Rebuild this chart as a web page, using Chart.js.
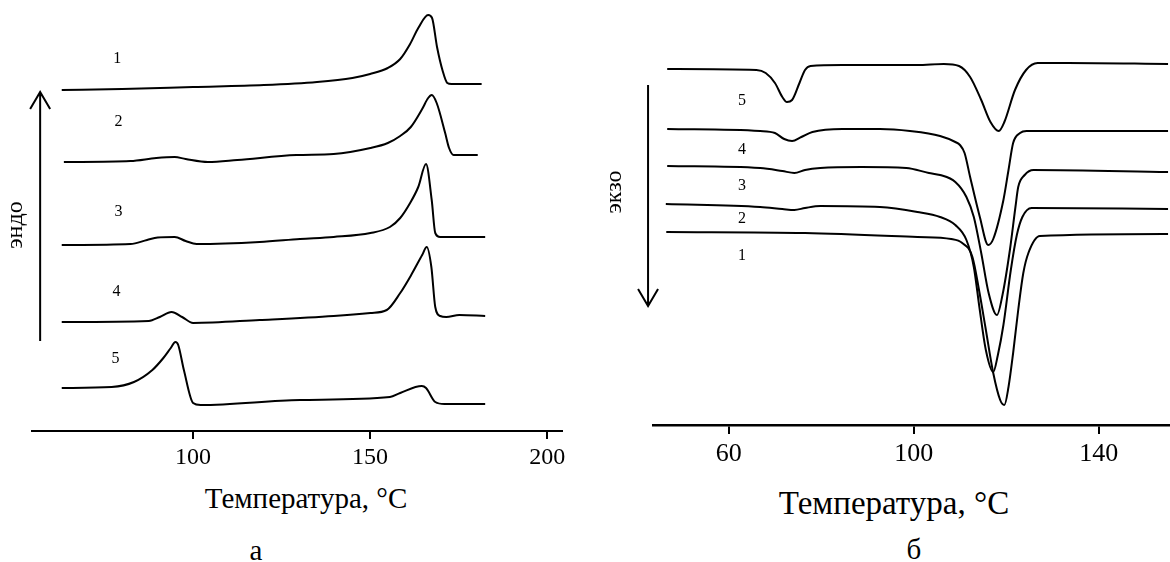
<!DOCTYPE html>
<html>
<head>
<meta charset="utf-8">
<script src="https://cdn.jsdelivr.net/npm/chart.js@4.4.0/dist/chart.umd.min.js"></script>
<style>
  body { margin: 0; background: #fff; width: 1170px; height: 562px; position: relative; overflow: hidden; font-family: 'Liberation Serif', serif; }
  canvas { position: absolute; top: 0; }
  #heatCanvas { left: 0; }
  #coolCanvas { left: 590px; }
  .cap { position: absolute; transform: translate(-50%, -50%); white-space: nowrap; color: #000; line-height: 1; }
</style>
</head>
<body>
<canvas id="heatCanvas" width="580" height="480"></canvas>
<canvas id="coolCanvas" width="580" height="480"></canvas>
<div class="cap" style="left:306px; top:498px; font-size:29px;">Температура, °C</div>
<div class="cap" style="left:256px; top:550px; font-size:29px;">а</div>
<div class="cap" style="left:894px; top:503px; font-size:33px;">Температура, °C</div>
<div class="cap" style="left:914px; top:549px; font-size:29px;">б</div>
<script>
// а: heating runs, temperature (°C) and heat flow (arb. units, curves shifted apart)
const heatT1 = [62.9, 80, 100, 120, 135, 145, 150, 155, 158.5, 161.3, 163.6, 166.4, 167.5, 168.9, 170.5, 171.8, 173, 181.5];
const heatQ1 = [34.1, 34.2, 34.4, 34.6, 34.9, 35.3, 35.7, 36.3, 37.2, 38.7, 40.3, 41.6, 41.3, 38.4, 36.0, 34.8, 34.7, 34.7];

const heatT2 = [63.5, 82.3, 89.6, 94.8, 97.9, 104.2, 112.5, 129.2, 139.7, 150.1, 155, 158.5, 161.5, 164.7, 166.4, 167.4, 168.8, 171.2, 172.3, 173.6, 180.4];
const heatQ2 = [26.9, 27.0, 27.3, 27.4, 27.2, 26.9, 27.1, 27.6, 27.7, 28.3, 28.8, 29.5, 30.4, 32.2, 33.3, 33.6, 32.8, 29.8, 28.3, 27.6, 27.6];

const heatT3 = [62.9, 82.3, 87, 90, 94.8, 97.9, 101, 118.8, 130.2, 139.7, 150.1, 155.6, 158.5, 161.3, 163.6, 165.8, 167.4, 168.4, 169.8, 182.5];
const heatQ3 = [18.6, 18.7, 19.1, 19.35, 19.4, 19.0, 18.7, 18.9, 19.2, 19.4, 19.8, 20.4, 21.3, 22.8, 24.4, 26.7, 23.1, 19.8, 19.4, 19.4];

const heatT4 = [62.9, 87.5, 90.6, 93.9, 96.9, 100, 118.8, 139.7, 150.1, 154.7, 158.5, 161.6, 164.7, 166.0, 167.3, 168.4, 169.8, 171.5, 175.2, 182.5];
const heatQ4 = [10.9, 11.0, 11.4, 11.9, 11.4, 10.8, 11.1, 11.5, 11.8, 12.1, 13.8, 15.6, 17.6, 18.4, 16.4, 12.4, 11.5, 11.4, 11.6, 11.5];

const heatT5 = [62.9, 77, 83.3, 88.5, 91.6, 93.7, 95.0, 95.8, 97.4, 100, 102.1, 130.2, 155.6, 158.5, 164.6, 165.8, 168.4, 171, 182.5];
const heatQ5 = [4.3, 4.4, 4.9, 6.1, 7.3, 8.3, 8.9, 8.6, 6.1, 2.8, 2.6, 3.1, 3.4, 3.8, 4.5, 4.3, 2.9, 2.7, 2.7];

// б: cooling runs
const coolT1 = [46.5, 76.5, 100.8, 108.1, 110.5, 112.7, 114.2, 115.5, 117.2, 118.7, 119.6, 120.5, 121.5, 122.6, 123.7, 124.8, 127.3, 155];
const coolQ1 = [19.3, 19.2, 18.8, 18.6, 18.2, 16.8, 13.3, 9.8, 5.2, 2.5, 2.0, 3.8, 7.2, 11.5, 15.2, 17.2, 18.9, 19.1];

const coolT2 = [46.4, 66.8, 71.6, 74.2, 76.5, 79.8, 92.7, 100.8, 105.7, 109, 111.4, 113, 114.2, 115.6, 117.2, 118.2, 119.4, 121, 122.3, 123.5, 125.5, 155];
const coolQ2 = [22.1, 21.8, 21.6, 21.5, 21.7, 21.9, 21.8, 21.3, 20.8, 20.0, 18.5, 15.8, 11.8, 7.5, 5.3, 7.0, 10.0, 15.5, 19.0, 20.8, 21.7, 21.6];

const coolT3 = [46.7, 66.8, 71.6, 74.2, 76.5, 79.8, 88.7, 98.4, 103.3, 105.7, 109, 111.4, 113, 114.6, 116.2, 118, 119.2, 120.8, 122, 122.6, 124, 125.9, 155];
const coolQ3 = [25.9, 25.7, 25.4, 25.2, 25.5, 25.7, 25.8, 25.7, 25.2, 25.0, 24.3, 22.8, 20.8, 17.2, 13.2, 11.0, 13.0, 17.5, 21.8, 23.8, 25.0, 25.5, 25.3];

const coolT4 = [46.7, 66.8, 70, 72, 73.7, 75.7, 78.1, 84.6, 92.7, 99.2, 105.7, 109, 110, 111, 112.2, 114.3, 116.1, 117.2, 119.4, 120.5, 121.5, 123, 124.4, 155];
const coolQ4 = [29.6, 29.4, 29.2, 28.6, 28.4, 28.8, 29.3, 29.6, 29.6, 29.4, 28.9, 28.3, 28.0, 27.2, 24.8, 20.8, 18.0, 18.6, 22.5, 25.5, 28.2, 29.2, 29.4, 29.4];

const coolT5 = [46.7, 66, 68, 70, 71.6, 72.6, 73.7, 75.3, 76.5, 77.7, 84.6, 100.8, 106.5, 109.8, 112.2, 114.6, 116.6, 118.4, 119.6, 121.9, 124.3, 126.8, 133.3, 155];
const coolQ5 = [35.6, 35.5, 35.2, 34.2, 32.8, 32.3, 32.5, 34.2, 35.5, 35.9, 36.0, 36.0, 36.1, 35.9, 34.8, 32.5, 30.3, 29.4, 30.3, 33.5, 35.5, 36.2, 36.2, 36.1];

const heatTicks = [100, 150, 200];
const coolTicks = [60, 100, 140];

// curve numbers and where they sit (°C, arb. units)
const curveNames = ['1', '2', '3', '4', '5'];
const heatNameT = [78.6, 78.9, 78.9, 78.4, 78.1];
const heatNameQ = [37.2, 30.9, 21.9, 13.9, 7.2];
const coolNameT = [62.9, 62.9, 62.9, 62.9, 62.9];
const coolNameQ = [16.9, 20.6, 23.9, 27.5, 32.4];

function toPoints(ts, qs) {
    return ts.map((t, i) => ({ x: t, y: qs[i] }));
}

function curve(ts, qs) {
    return {
        data: toPoints(ts, qs),
        borderColor: '#000',
        borderWidth: 2,
        pointRadius: 0,
        fill: false,
        cubicInterpolationMode: 'monotone'
    };
}

// numbers next to the curves, the direction arrow and the rotated word
const notesPlugin = {
    id: 'dscNotes',
    afterDatasetsDraw(chart, args, opts) {
        const { ctx } = chart;
        const x = chart.scales.x, y = chart.scales.y;
        ctx.save();
        ctx.fillStyle = '#000';
        ctx.strokeStyle = '#000';
        ctx.textAlign = 'center';
        ctx.textBaseline = 'middle';
        ctx.font = '16px "Liberation Serif"';
        opts.names.forEach((n, i) => {
            ctx.fillText(n, x.getPixelForValue(opts.nameT[i]), y.getPixelForValue(opts.nameQ[i]));
        });

        const ax = x.getPixelForValue(opts.arrow.t);
        const y0 = y.getPixelForValue(opts.arrow.from);
        const y1 = y.getPixelForValue(opts.arrow.to);
        const dir = Math.sign(y1 - y0);
        ctx.lineWidth = 2;
        ctx.beginPath();
        ctx.moveTo(ax, y0);
        ctx.lineTo(ax, y1);
        ctx.moveTo(ax - 10, y1 - dir * 17);
        ctx.lineTo(ax, y1);
        ctx.lineTo(ax + 10, y1 - dir * 17);
        ctx.stroke();

        ctx.translate(x.getPixelForValue(opts.word.t), y.getPixelForValue(opts.word.q));
        ctx.rotate(-Math.PI / 2);
        ctx.font = '24px "Liberation Serif"';
        ctx.fillText(opts.word.text, 0, 0);
        ctx.restore();
    }
};

function makeChart(id, cfg) {
    return new Chart(document.getElementById(id).getContext('2d'), {
        type: 'line',
        data: { datasets: cfg.sets },
        plugins: [notesPlugin],
        options: {
            responsive: false,
            animation: false,
            layout: { padding: cfg.padding },
            plugins: {
                legend: { display: false },
                tooltip: { enabled: false },
                dscNotes: cfg.notes
            },
            scales: {
                x: {
                    type: 'linear',
                    min: cfg.xMin,
                    max: cfg.xMax,
                    afterBuildTicks: s => { s.ticks = cfg.ticks.map(v => ({ value: v })); },
                    afterFit: s => { s.height = cfg.axisHeight; },
                    grid: { drawOnChartArea: false, drawTicks: true, tickLength: cfg.tickLength, color: '#000', lineWidth: 2 },
                    border: { display: true, color: '#000', width: cfg.borderWidth },
                    ticks: {
                        color: '#000',
                        autoSkip: false,
                        maxRotation: 0,
                        padding: 7,
                        font: { family: 'Liberation Serif', size: cfg.tickSize, lineHeight: 1 }
                    }
                },
                y: { display: false, min: 0, max: cfg.yMax }
            }
        }
    });
}

makeChart('heatCanvas', {
    sets: [curve(heatT1, heatQ1), curve(heatT2, heatQ2), curve(heatT3, heatQ3), curve(heatT4, heatQ4), curve(heatT5, heatQ5)],
    padding: { left: 32, right: 18, top: 0, bottom: 0 },
    xMin: 54.5, xMax: 204.2, yMax: 43.1,
    ticks: heatTicks,
    axisHeight: 49, tickLength: 8, borderWidth: 2, tickSize: 24,
    notes: {
        names: curveNames, nameT: heatNameT, nameQ: heatNameQ,
        arrow: { t: 56.8, from: 9.0, to: 33.9 },
        word: { text: 'эндо', t: 50.0, q: 20.6 }
    }
});

makeChart('coolCanvas', {
    sets: [curve(coolT1, coolQ1), curve(coolT2, coolQ2), curve(coolT3, coolQ3), curve(coolT4, coolQ4), curve(coolT5, coolQ5)],
    padding: { left: 63, right: 0, top: 0, bottom: 0 },
    xMin: 43.63, xMax: 155.42, yMax: 42.5,
    ticks: coolTicks,
    axisHeight: 55, tickLength: 9, borderWidth: 2.5, tickSize: 26,
    notes: {
        names: curveNames, nameT: coolNameT, nameQ: coolNameQ,
        arrow: { t: 42.56, from: 34.0, to: 11.9 },
        word: { text: 'экзо', t: 35.4, q: 23.3 }
    }
});
</script>
</body>
</html>
